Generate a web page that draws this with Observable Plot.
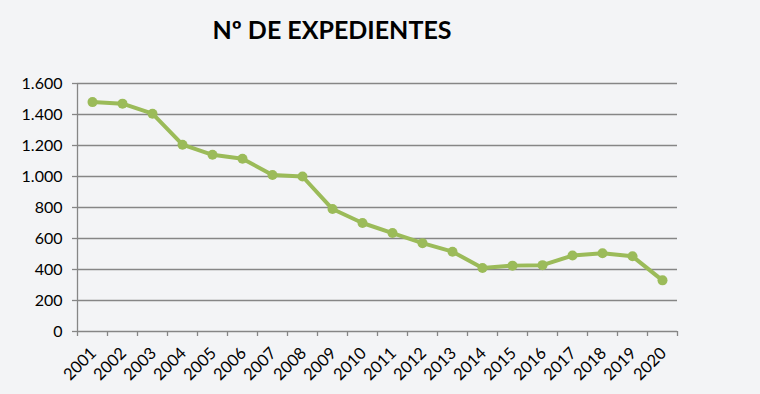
<!DOCTYPE html>
<html>
<head>
<meta charset="utf-8">
<script src="https://cdn.jsdelivr.net/npm/d3@7"></script>
<script src="https://cdn.jsdelivr.net/npm/@observablehq/plot@0.6"></script>
<style>
  html, body { margin: 0; padding: 0; background: #f3f4f6; }
  #wrap { position: relative; width: 760px; height: 394px; background: #f3f4f6; overflow: hidden; }
  #title { position: absolute; left: 0; width: 664px; top: 14px; text-align: center;
           font-family: Lato, sans-serif; font-weight: 700; font-size: 25px; color: #000; }
  #chart { position: absolute; left: 0; top: 0; }
</style>
</head>
<body>
<div id="wrap">
  <div id="chart"></div>
  <div id="title">Nº DE EXPEDIENTES</div>
</div>
<script>
const years = [2001, 2002, 2003, 2004, 2005, 2006, 2007, 2008, 2009, 2010,
               2011, 2012, 2013, 2014, 2015, 2016, 2017, 2018, 2019, 2020];
const expedientes = [1480, 1470, 1405, 1205, 1140, 1115, 1010, 1000, 790, 700,
                     635, 570, 515, 410, 425, 428, 490, 505, 485, 330];
const yTicks = [0, 200, 400, 600, 800, 1000, 1200, 1400, 1600];

const data = years.map((y, i) => ({year: y, value: expedientes[i]}));
const boundaries = years.map(y => y - 0.5).concat([years[years.length - 1] + 0.5]);
const es = d3.formatLocale({decimal: ",", thousands: ".", grouping: [3], currency: ["", "€"]});
const fmt = es.format(",d");
const grey = "#868686";
const green = "#9bbb59";

const chart = Plot.plot({
  width: 760,
  height: 394,
  marginTop: 83,
  marginBottom: 63,
  marginLeft: 77,
  marginRight: 83,
  style: {background: "transparent", fontFamily: "Lato, sans-serif", fontSize: "16px", color: "#000"},
  x: {type: "linear", domain: [boundaries[0], boundaries[boundaries.length - 1]], axis: null},
  y: {domain: [0, 1600]},
  marks: [
    Plot.ruleY(yTicks, {stroke: grey, strokeWidth: 1.3}),
    Plot.ruleX([boundaries[0]], {stroke: grey, strokeWidth: 1.3}),
    Plot.axisY({ticks: yTicks, tickSize: 5, tickPadding: 10, tickFormat: fmt, stroke: grey, strokeWidth: 1.3, strokeOpacity: 1, label: null}),
    Plot.axisX({ticks: boundaries, tickSize: 5, tickFormat: () => "", stroke: grey, strokeWidth: 1.3, strokeOpacity: 1, label: null}),
    Plot.text(years, {x: d => d, text: d => String(d), frameAnchor: "bottom", rotate: -45, textAnchor: "end", lineAnchor: "middle", dy: 19, dx: 1, fontSize: 16.5, fill: "#000"}),
    Plot.line(data, {x: "year", y: "value", stroke: green, strokeWidth: 4}),
    Plot.dot(data, {x: "year", y: "value", r: 5, fill: green, stroke: "none"})
  ]
});
document.getElementById("chart").appendChild(chart);
</script>
</body>
</html>
